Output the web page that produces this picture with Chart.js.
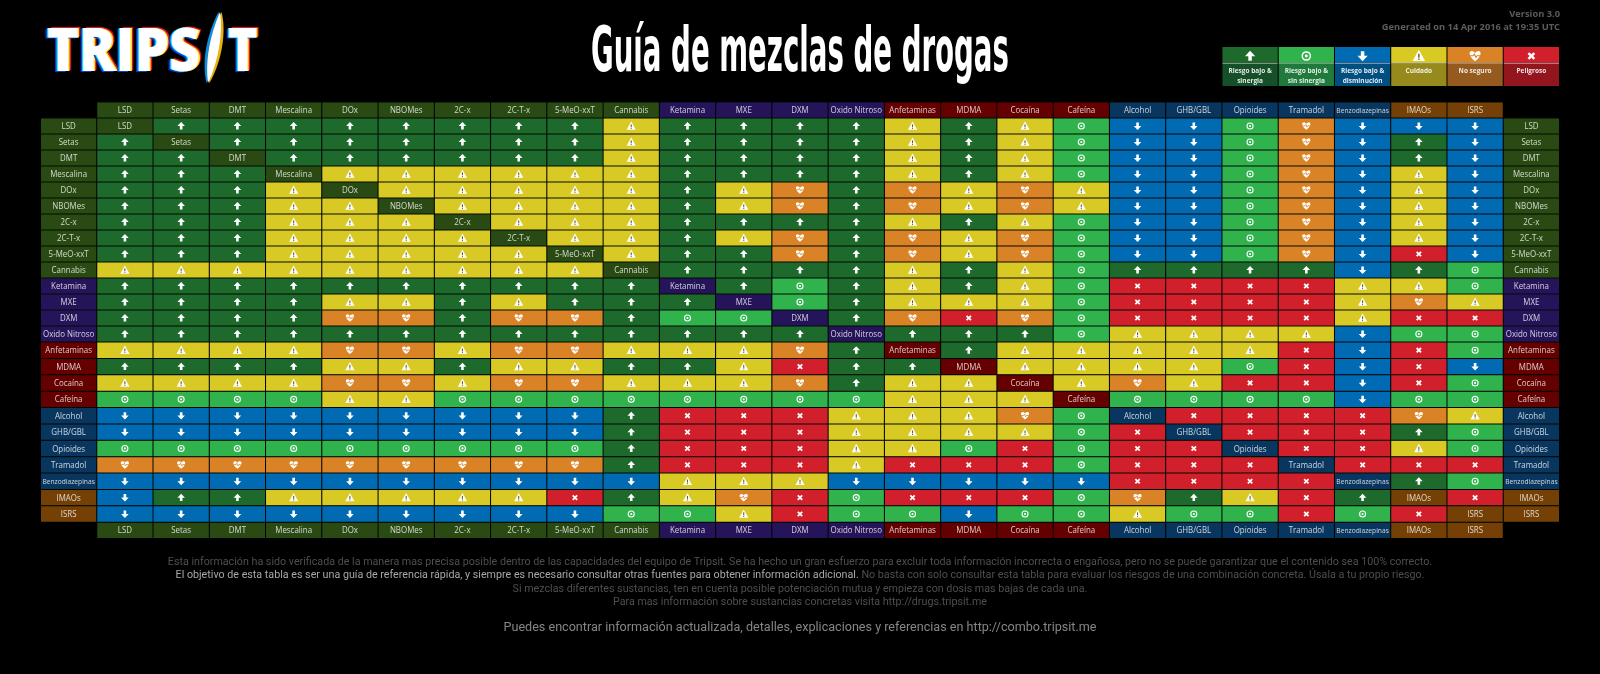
<!DOCTYPE html>
<html lang="es">
<head>
<meta charset="utf-8">
<title>Guía de mezclas de drogas</title>
<script src="https://cdn.jsdelivr.net/npm/chart.js@4/dist/chart.umd.js"></script>
<style>
  html, body { margin: 0; background: #000; }
  #wrap { position: relative; width: 1600px; height: 674px; overflow: hidden; }
  #chart { position: absolute; left: 0; top: 0; }
  .abs { position: absolute; white-space: nowrap; transform-origin: left top; }
  .logo { font: 800 60px "Open Sans"; color: #fff; line-height: 60px;
    text-shadow: -1.5px 0 #19d4ff, -3px 1px #0a3fd0, 1.5px 0 #ffe21a, 3px -1px #e3122a; }
  #title { font: 700 63px "DejaVu Sans"; font-stretch: condensed; color: #fff; line-height: 70px; }
  .ver { right: 40px; font: 700 9.3px "Open Sans"; color: #5c5c5c; text-align: right; }
  .foot { left: 0; width: 1600px; text-align: center; font: 11.4px Roboto; color: #4f4f4f;
    transform: scaleX(.94); transform-origin: 800px 0; }
  .foot b { font-weight: 400; color: #a8a8a8; }
</style>
</head>
<body>
<div id="wrap">
  <canvas id="chart" width="1600" height="674"></canvas>
  <span class="abs logo" id="logoA" style="left:47px;top:18px">TRIPS</span>
  <svg class="abs" style="left:0;top:0" width="300" height="100">
    <path d="M220 12 C225 30 221 60 208 83 C203 62 208 35 220 12Z" fill="#0a8fe0" transform="translate(-1.5 0)"/>
    <path d="M220 12 C225 30 221 60 208 83 C203 62 208 35 220 12Z" fill="#e8b010" transform="translate(1.5 0)"/>
    <path d="M220 12 C223 32 219 60 208 83 C205 62 210 35 220 12Z" fill="#fff"/>
  </svg>
  <span class="abs logo" id="logoT" style="left:228px;top:18px">T</span>
  <div class="abs" id="title" style="left:591px;top:15px">Guía de mezclas de drogas</div>
  <div class="abs ver" style="top:7px">Version 3.0</div>
  <div class="abs ver" style="top:20px">Generated on 14 Apr 2016 at 19:35 UTC</div>
  <div class="abs foot" style="top:554px">Esta información ha sido verificada de la manera mas precisa posible dentro de las capacidades del equipo de Tripsit. Se ha hecho un gran esfuerzo para excluir toda información incorrecta o engañosa, pero no se puede garantizar que el contenido sea 100% correcto.</div>
  <div class="abs foot" style="top:567px"><b>El objetivo de esta tabla es ser una guía de referencia rápida, y siempre es necesario consultar otras fuentes para obtener información adicional.</b> No basta con solo consultar esta tabla para evaluar los riesgos de una combinación concreta. Úsala a tu propio riesgo.</div>
  <div class="abs foot" style="top:581px">Si mezclas diferentes sustancias, ten en cuenta posible potenciación mutua y empieza con dosis mas bajas de cada una.</div>
  <div class="abs foot" style="top:594px">Para mas información sobre sustancias concretas visita http://drugs.tripsit.me</div>
  <div class="abs foot" style="top:619px;font-size:13.4px;color:#868686">Puedes encontrar información actualizada, detalles, explicaciones y referencias en http://combo.tripsit.me</div>
</div>

<script>
// Drug names, same order on both axes
const drugs = ["LSD", "Setas", "DMT", "Mescalina", "DOx", "NBOMes", "2C-x", "2C-T-x", "5-MeO-xxT", "Cannabis",
  "Ketamina", "MXE", "DXM", "Oxido Nitroso", "Anfetaminas", "MDMA", "Cocaína", "Cafeína",
  "Alcohol", "GHB/GBL", "Opioides", "Tramadol", "Benzodiazepinas", "IMAOs", "ISRS"];

// Header group of each drug
const drugGroups = ["psy", "psy", "psy", "psy", "psy", "psy", "psy", "psy", "psy", "psy",
  "dis", "dis", "dis", "dis", "sti", "sti", "sti", "sti",
  "dep", "dep", "dep", "dep", "dep", "mao", "mao"];

// One letter per cell, u up, s neutral, d down, c caution, n unsafe, x danger, - same drug
const combos = [
  "-uuuuuuuucuuuucucsddsnddd",
  "u-uuuuuuucuuuucucsddsndud",
  "uu-uuuuuucuuuucucsddsndud",
  "uuu-ccccccuuuucucsddsndcd",
  "uuuc-cccccucnuncncddsndcd",
  "uuucc-ccccucnuncncddsndcd",
  "uuuccc-cccuuuucucsddsndcd",
  "uuucccc-ccucnuncnsddsndcd",
  "uuuccccc-cuununcnsddsndxd",
  "ccccccccc-uuuucucsuuuudus",
  "uuuuuuuuuu-usucucsxxxxccs",
  "uuuuccucuuu-succcsxxxxcnc",
  "uuuunnunnuss-unxnsxxxxcxx",
  "uuuuuuuuuuuuu-uuusccccdss",
  "ccccnncnncccnu-ucccccxdxs",
  "uuuuccuccuucxuu-ccccsxdxd",
  "ccccnncnncccnucc-cncxxdxs",
  "ssssccssssssssccc-ssssdss",
  "ddddddddduxxxcccns-xxxxnc",
  "ddddddddduxxxccccsx-xxxus",
  "sssssssssuxxxccsxsxx-xxcs",
  "nnnnnnnnnuxxxcxxxsxxx-xxx",
  "ddddddddddcccdddddxxxx-us",
  "duucccccxucnxsxxxsnucxu-x",
  "dddddddddsscxssdsscssxsx-"
];

const legendRisks = ["u", "s", "d", "c", "n", "x"];
const legendTexts = [["Riesgo bajo &", "sinergia"], ["Riesgo bajo &", "sin sinergia"], ["Riesgo bajo &", "disminución"],
  ["Cuidado"], ["No seguro"], ["Peligroso"]];

const riskColors = { u: "#1e6a2d", s: "#30b34d", d: "#006bb3", c: "#d8c924", n: "#da8326", x: "#d1202b" };
const legendDark = { u: "#16502a", s: "#1f7a3c", d: "#004f80", c: "#968a1c", n: "#955a1e", x: "#93161f" };
const groupColors = { psy: "#2a4a13", dis: "#26145a", sti: "#640000", dep: "#08365f", mao: "#744006" };

// Rows after the first 15 are a little taller in the original
class RowScale extends Chart.LinearScale {
  getPixelForValue(v) {
    const a = 16, b = 16.38, k = 15;
    return this.top + (v <= k ? v * a : k * a + (v - k) * b);
  }
}
RowScale.id = "rowScale";
RowScale.defaults = Chart.LinearScale.defaults;
Chart.register(RowScale);

const xLabels = ["izq", ...drugs, "der"];
const cells = [];
const addLabel = (x, row, i) => cells.push({ x, y: [row, row + 1], label: drugs[i], color: groupColors[drugGroups[i]] });

drugs.forEach((d, i) => {
  addLabel(d, 0, i);
  addLabel(d, 26, i);
  addLabel("izq", i + 1, i);
  addLabel("der", i + 1, i);
  drugs.forEach((d2, j) => {
    const risk = combos[i][j];
    if (risk === "-") addLabel(d2, i + 1, i);
    else cells.push({ x: d2, y: [i + 1, i + 2], risk, color: riskColors[risk] });
  });
});

// Icons
function drawIcon(ctx, risk, cx, cy, s, bg) {
  ctx.save();
  ctx.translate(cx, cy);
  ctx.scale(s, s);
  ctx.fillStyle = "#fff";
  ctx.strokeStyle = "#fff";
  ctx.lineJoin = "round";
  if (risk === "u" || risk === "d") {
    if (risk === "d") ctx.scale(1, -1);
    ctx.beginPath();
    ctx.moveTo(0, -3.9);
    ctx.lineTo(3.8, 0.1);
    ctx.lineTo(1.3, 0.1);
    ctx.lineTo(1.3, 3.5);
    ctx.lineTo(-1.3, 3.5);
    ctx.lineTo(-1.3, 0.1);
    ctx.lineTo(-3.8, 0.1);
    ctx.closePath();
    ctx.fill();
  } else if (risk === "s") {
    ctx.lineWidth = 1.1;
    ctx.beginPath();
    ctx.arc(0, 0, 3, 0, Math.PI * 2);
    ctx.stroke();
    ctx.beginPath();
    ctx.arc(0, 0, 1.1, 0, Math.PI * 2);
    ctx.fill();
  } else if (risk === "c") {
    ctx.beginPath();
    ctx.moveTo(0, -4.6);
    ctx.lineTo(4.6, 3.7);
    ctx.lineTo(-4.6, 3.7);
    ctx.closePath();
    ctx.fill();
    ctx.fillStyle = "#6b6420";
    ctx.fillRect(-0.55, -1.7, 1.1, 3);
    ctx.fillRect(-0.55, 1.9, 1.1, 1);
  } else if (risk === "n") {
    ctx.beginPath();
    ctx.moveTo(0, 3.8);
    ctx.bezierCurveTo(-6, -0.5, -4.2, -4.4, -1.9, -3.6);
    ctx.bezierCurveTo(-1, -3.4, -0.4, -2.8, 0, -2.2);
    ctx.bezierCurveTo(0.4, -2.8, 1, -3.4, 1.9, -3.6);
    ctx.bezierCurveTo(4.2, -4.4, 6, -0.5, 0, 3.8);
    ctx.fill();
    ctx.strokeStyle = bg;
    ctx.lineWidth = 0.8;
    ctx.beginPath();
    ctx.moveTo(-4, -0.2);
    ctx.lineTo(-1.4, -0.2);
    ctx.lineTo(-0.5, -1.6);
    ctx.lineTo(0.6, 1.1);
    ctx.lineTo(1.4, -0.2);
    ctx.lineTo(4, -0.2);
    ctx.stroke();
  } else if (risk === "x") {
    ctx.lineWidth = 1.8;
    ctx.beginPath();
    ctx.moveTo(-2.2, -2.2);
    ctx.lineTo(2.2, 2.2);
    ctx.moveTo(2.2, -2.2);
    ctx.lineTo(-2.2, 2.2);
    ctx.stroke();
  }
  ctx.restore();
}

// Text a bit narrower than the font, like the original
function narrowText(ctx, text, cx, cy, sx) {
  ctx.save();
  ctx.translate(cx, cy);
  ctx.scale(sx, 1);
  ctx.fillText(text, 0, 0);
  ctx.restore();
}

// Labels and icons inside the bars, plus the key at top right
const cellContent = {
  id: "cellContent",
  afterDatasetsDraw(chart) {
    const { ctx, scales: { x, y } } = chart;
    const bars = chart.getDatasetMeta(0).data;
    ctx.save();
    ctx.textAlign = "center";
    ctx.textBaseline = "middle";
    cells.forEach((c, i) => {
      const cx = bars[i].x;
      const cy = (y.getPixelForValue(c.y[0]) + y.getPixelForValue(c.y[1])) / 2;
      if (c.risk) {
        drawIcon(ctx, c.risk, cx, cy, 1, c.color);
      } else {
        ctx.font = (c.label === "Benzodiazepinas" ? "7.6px" : "9px") + ' "Open Sans"';
        ctx.fillStyle = "rgba(255,255,255,.78)";
        narrowText(ctx, c.label, cx, cy + 0.5, 0.88);
      }
    });
    // key sits over the last six columns
    const w = x.getPixelForValue(1) - x.getPixelForValue(0);
    legendRisks.forEach((risk, i) => {
      const cx = x.getPixelForValue(xLabels.length - 6 + i);
      ctx.fillStyle = riskColors[risk];
      ctx.fillRect(cx - w / 2 + 0.5, 47, w - 1, 16);
      ctx.fillStyle = "rgba(255,255,255,.55)";
      ctx.fillRect(cx - w / 2 + 0.5, 63, w - 1, 1);
      ctx.fillStyle = legendDark[risk];
      ctx.fillRect(cx - w / 2 + 0.5, 64, w - 1, 22);
      drawIcon(ctx, risk, cx, 56, 1.35, riskColors[risk]);
      ctx.font = '700 7.4px "Open Sans"';
      ctx.fillStyle = "rgba(255,255,255,.88)";
      legendTexts[i].forEach((t, n) => narrowText(ctx, t, cx, 71 + n * 9.5, 0.88));
    });
    ctx.restore();
  }
};

new Chart(document.getElementById("chart"), {
  type: "bar",
  data: {
    labels: xLabels,
    datasets: [{
      data: cells.map(c => ({ x: c.x, y: c.y })),
      backgroundColor: cells.map(c => c.color),
      borderColor: "#04100a",
      borderWidth: 0.5,
      borderSkipped: false,
      inflateAmount: 0,
      barPercentage: 1,
      categoryPercentage: 1
    }]
  },
  options: {
    responsive: false,
    animation: false,
    events: [],
    layout: { padding: { left: 40.5, right: 40.5, top: 102, bottom: 136 } },
    plugins: { legend: { display: false }, tooltip: { enabled: false } },
    scales: {
      x: { display: false },
      y: { type: "rowScale", display: false, min: 0, max: 27 }
    }
  },
  plugins: [cellContent]
});

// Squeeze the display text to the width it has in the original
function fit(id, w) {
  const el = document.getElementById(id);
  el.style.transform = "scaleX(" + (w / el.offsetWidth) + ")";
}
fit("title", 418);
fit("logoA", 153);
fit("logoT", 29);
</script>
</body>
</html>
